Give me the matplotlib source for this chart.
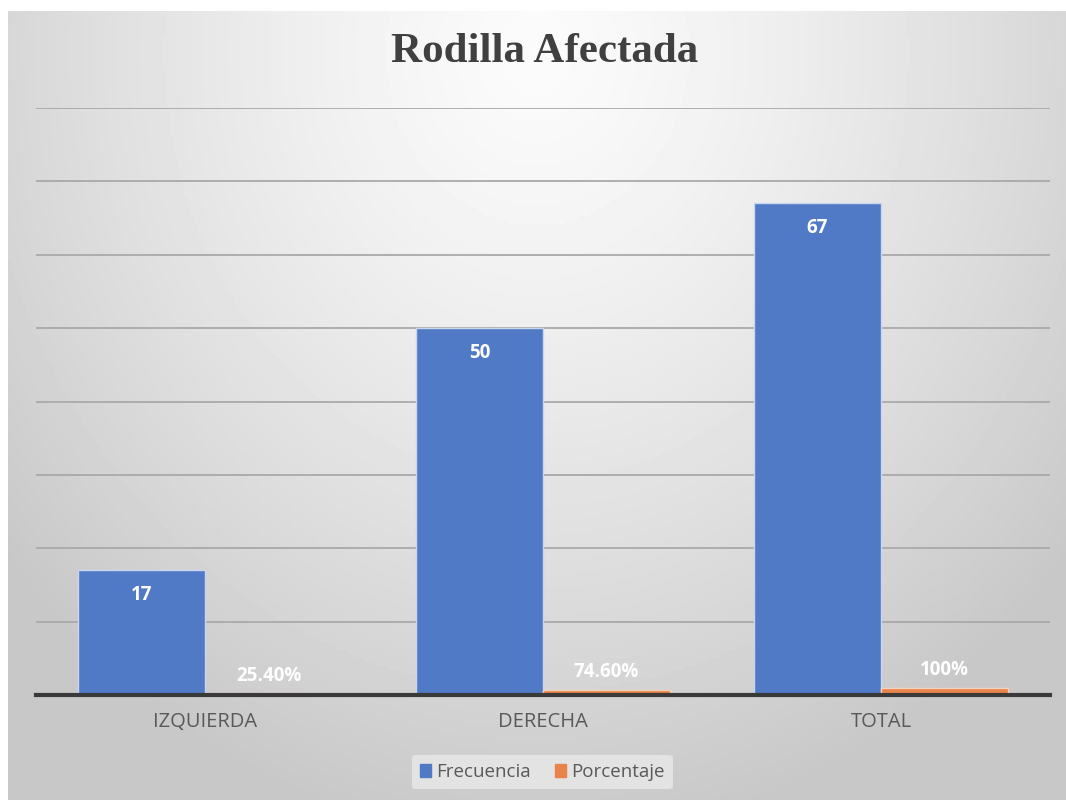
import numpy as np
import matplotlib
matplotlib.use("Agg")
import matplotlib.pyplot as plt
from matplotlib.patches import Patch

categories = ["IZQUIERDA", "DERECHA", "TOTAL"]
frecuencia = [17, 50, 67]
porcentaje = [0.254, 0.746, 1.0]
porcentaje_labels = ["25.40%", "74.60%", "100%"]

plt.rcParams["font.family"] = ["Open Sans", "DejaVu Sans"]

fig = plt.figure(figsize=(10.66, 8), dpi=100)

# gradient background (white top centre, grey at the edges)
bg = fig.add_axes([8 / 1066, 0, 1 - 8 / 1066, 1 - 11 / 800], zorder=-10)
yy, xx = np.mgrid[0:1:200j, -1:1:300j]
dist = np.sqrt((xx / 1.3) ** 2 + ((yy - 0.05) / 1.0) ** 2)
shade = 0.985 - 0.2 * np.clip(dist, 0, 1) ** 1.3
bg.imshow(shade, cmap="gray", vmin=0, vmax=1, aspect="auto",
          extent=[0, 1, 0, 1], origin="upper")
bg.set_axis_off()

ax = fig.add_axes([36 / 1066, 105 / 800, 1014 / 1066, (695 - 108) / 800])
ax.patch.set_alpha(0)

x = np.arange(len(categories))
w = 0.376
b1 = ax.bar(x - w / 2, frecuencia, w, color="#5079c6", edgecolor="#c9d6ee",
            linewidth=1, label="Frecuencia", zorder=3)
b2 = ax.bar(x + w / 2, porcentaje, w, color="#e8834a", edgecolor="#f7d2ba",
            linewidth=1, label="Porcentaje", zorder=3)

for rect, v in zip(b1, frecuencia):
    ax.text(rect.get_x() + rect.get_width() / 2, v - 2.0, str(v),
            ha="center", va="top", color="white", fontsize=13.5,
            fontweight="bold", zorder=4)
for rect, v, lab in zip(b2, porcentaje, porcentaje_labels):
    ax.text(rect.get_x() + rect.get_width() / 2, v + 1.0, lab,
            ha="center", va="bottom", color="white", fontsize=13.5,
            fontweight="bold", zorder=4)

ax.set_xlim(-0.5, 2.5)
ax.set_ylim(0, 80)
ax.set_yticks(np.arange(0, 81, 10))
ax.yaxis.grid(True, color="#a9a9a9", linewidth=1.3, zorder=0)
ax.tick_params(axis="y", left=False, labelleft=False)
ax.set_xticks(x)
ax.set_xticklabels(categories, fontsize=14.5, color="#595959")
ax.tick_params(axis="x", length=0, pad=12)
for s in ["top", "right", "left"]:
    ax.spines[s].set_visible(False)
ax.spines["bottom"].set_color("#3a3a3a")
ax.spines["bottom"].set_linewidth(3)
ax.spines["bottom"].set_zorder(5)

fig.text(0.511, 0.935, "Rodilla Afectada", ha="center", va="center",
         fontsize=31, fontweight="bold", color="#404040",
         family=["Liberation Serif", "DejaVu Serif"])

handles = [Patch(color="#5079c6", label="Frecuencia"),
           Patch(color="#e8834a", label="Porcentaje")]
leg = fig.legend(handles=handles, loc="center", bbox_to_anchor=(0.509, 0.035),
                 ncol=2, frameon=True, fontsize=13.5, handlelength=0.55,
                 handleheight=0.75, handletextpad=0.3, columnspacing=1.3,
                 borderpad=0.45)
leg.get_frame().set_facecolor("#e3e3e3")
leg.get_frame().set_edgecolor("none")
leg.get_frame().set_alpha(1)
for t in leg.get_texts():
    t.set_color("#595959")

fig.savefig("out.png", dpi=100)
